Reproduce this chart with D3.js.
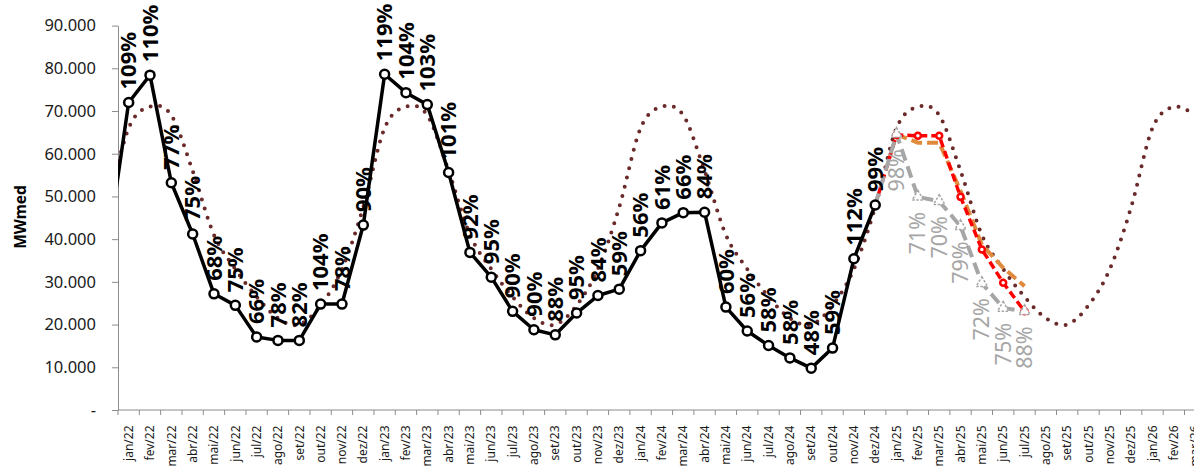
<!DOCTYPE html>
<html><head><meta charset="utf-8">
<script src="https://cdn.jsdelivr.net/npm/d3@7"></script>
<style>body{margin:0;background:#fff;overflow:hidden} svg{display:block}</style>
</head><body><svg id="chart" width="1194" height="476"></svg>
<script>
// Categories (dez/21 is drawn but falls left of the visible axis)
const months = ["dez/21",
  "jan/22","fev/22","mar/22","abr/22","mai/22","jun/22","jul/22","ago/22","set/22","out/22","nov/22","dez/22",
  "jan/23","fev/23","mar/23","abr/23","mai/23","jun/23","jul/23","ago/23","set/23","out/23","nov/23","dez/23",
  "jan/24","fev/24","mar/24","abr/24","mai/24","jun/24","jul/24","ago/24","set/24","out/24","nov/24","dez/24",
  "jan/25","fev/25","mar/25","abr/25","mai/25","jun/25","jul/25","ago/25","set/25","out/25","nov/25","dez/25",
  "jan/26","fev/26","mar/26"];

// Observed (black line with circles)
const actual = [37400,
  72000,78400,53200,41200,27200,24500,17100,16300,16300,24800,24800,43300,
  78600,74300,71500,55600,36900,31100,23100,18800,17600,22700,26800,28300,
  37300,43800,46200,46300,24100,18500,15100,12200,9800,14500,35400,48000,
  null,null,null,null,null,null,null,null,null,null,null,null,
  null,null,null];
const actualLabels = [null,
  "109%","110%","77%","75%","68%","75%","66%","78%","82%","104%","78%","90%",
  "119%","104%","103%","101%","92%","95%","90%","90%","88%","95%","84%","59%",
  "56%","61%","66%","84%","60%","56%","58%","58%","48%","59%","112%","99%",
  null,null,null,null,null,null,null,null,null,null,null,null,
  null,null,null];

// Long-term average (dotted smooth curve)
const mlt = [47500,
  66000,71000,69000,56000,41000,33000,26500,21500,20000,24500,33000,47500,
  66000,71000,69000,56000,41000,33000,26500,21500,20000,24500,33000,47500,
  66000,71000,69000,56000,41000,33000,26500,21500,20000,24500,33000,47500,
  66000,71000,69000,56000,41000,33000,26500,21500,20000,24500,33000,47500,
  66000,71000,69000];

const N = null;
// Forecast scenarios 2025
const redSeries = [N,N,N,N,N,N,N,N,N,N,N,N,N, N,N,N,N,N,N,N,N,N,N,N,N, N,N,N,N,N,N,N,N,N,N,N,48000,
  64400,64200,64200,49900,37600,29800,23100,N,N,N,N,N, N,N,N];
const orangeSeries = [N,N,N,N,N,N,N,N,N,N,N,N,N, N,N,N,N,N,N,N,N,N,N,N,N, N,N,N,N,N,N,N,N,N,N,N,N,
  64500,62600,62600,51300,38700,33300,29000,N,N,N,N,N, N,N,N];
const graySeries = [N,N,N,N,N,N,N,N,N,N,N,N,N, N,N,N,N,N,N,N,N,N,N,N,N, N,N,N,N,N,N,N,N,N,N,N,48000,
  64600,49900,48900,43000,29700,23900,23100,N,N,N,N,N, N,N,N];
const grayLabels = [N,N,N,N,N,N,N,N,N,N,N,N,N, N,N,N,N,N,N,N,N,N,N,N,N, N,N,N,N,N,N,N,N,N,N,N,N,
  "98%","71%","70%","79%","72%","75%","88%",N,N,N,N,N, N,N,N];

const yTicks = [0,10000,20000,30000,40000,50000,60000,70000,80000,90000];

const svg = d3.select("#chart");
const left = 118, bandW = 21.33;
const x = d3.scaleBand().domain(months)
  .range([left - bandW, left + (months.length - 1) * bandW]).padding(0);
const y = d3.scaleLinear().domain([0, 90000]).range([410, 25.6]);
const cx = m => x(m) + x.bandwidth() / 2;
const axisMonths = months.slice(1);

// clip
svg.append("defs").append("clipPath").attr("id", "plot")
  .append("rect").attr("x", left).attr("y", -60).attr("width", 1200).attr("height", 600);

// Y axis
const yAxis = d3.axisLeft(y).tickValues(yTicks).tickSize(6).tickSizeOuter(0).tickPadding(16)
  .tickFormat(d => d === 0 ? "-" : d3.format(",")(d).replace(/,/g, "."));
const gy = svg.append("g").attr("transform", `translate(${left},0)`).call(yAxis);
gy.select(".domain").attr("stroke", "#8c8c8c");
gy.selectAll(".tick line").attr("stroke", "#8c8c8c");
gy.selectAll("text").attr("font-family", "Noto Sans").attr("font-size", 16.5).attr("fill", "#1a1a1a");

// X axis
const xAxis = d3.axisBottom(x).tickValues(axisMonths).tickSize(0).tickSizeOuter(0);
const gx = svg.append("g").attr("transform", "translate(0,410)").call(xAxis);
gx.select(".domain").remove();
gx.selectAll("text").attr("font-family", "Noto Sans").attr("font-size", 12).attr("fill", "#1a1a1a")
  .attr("transform", "rotate(-90)").attr("x", -15.5).attr("y", 0).attr("dy", "0.35em")
  .style("text-anchor", "end");
svg.append("line").attr("x1", left).attr("x2", x.range()[1]).attr("y1", 410).attr("y2", 410)
  .attr("stroke", "#8c8c8c");
svg.append("g").selectAll("line").data(axisMonths).join("line")
  .attr("x1", d => x(d)).attr("x2", d => x(d)).attr("y1", 410).attr("y2", 415)
  .attr("stroke", "#8c8c8c");

// Y title
svg.append("text").attr("transform", "translate(21,217) rotate(-90)")
  .attr("text-anchor", "middle").attr("dy", "0.35em")
  .attr("font-family", "Noto Sans").attr("font-weight", "bold").attr("font-size", 15.5)
  .text("MWmed");

const plot = svg.append("g").attr("clip-path", "url(#plot)");
const mkLine = (curve) => d3.line().defined(d => d.v != null)
  .x(d => cx(d.m)).y(d => y(d.v)).curve(curve || d3.curveLinear);
const pts = arr => months.map((m, i) => ({ m, v: arr[i] }));

// dotted long-term curve
plot.append("path").datum(pts(mlt)).attr("d", mkLine(d3.curveCardinal.tension(0)))
  .attr("fill", "none").attr("stroke", "#6b2a2a").attr("stroke-width", 4)
  .attr("stroke-linecap", "round").attr("stroke-dasharray", "0 9.5");

// black observed line
plot.append("path").datum(pts(actual)).attr("d", mkLine())
  .attr("fill", "none").attr("stroke", "#000").attr("stroke-width", 3.5).attr("stroke-linejoin", "round");

// orange
plot.append("path").datum(pts(orangeSeries)).attr("d", mkLine())
  .attr("fill", "none").attr("stroke", "#e08a3e").attr("stroke-width", 4).attr("stroke-dasharray", "11 5");
// red
plot.append("path").datum(pts(redSeries)).attr("d", mkLine())
  .attr("fill", "none").attr("stroke", "#ff0000").attr("stroke-width", 3.5).attr("stroke-dasharray", "8 4");
// gray
plot.append("path").datum(pts(graySeries)).attr("d", mkLine())
  .attr("fill", "none").attr("stroke", "#a6a6a6").attr("stroke-width", 4).attr("stroke-dasharray", "12 6");

// markers
plot.append("g").selectAll("circle").data(pts(redSeries).filter((d, i) => d.v != null && i > 36)).join("circle")
  .attr("cx", d => cx(d.m)).attr("cy", d => y(d.v)).attr("r", 3)
  .attr("fill", "#fff").attr("stroke", "#ff0000").attr("stroke-width", 2.5);
plot.append("g").selectAll("path").data(pts(graySeries).filter((d, i) => d.v != null && i > 36)).join("path")
  .attr("d", d3.symbol(d3.symbolTriangle, 55))
  .attr("transform", d => `translate(${cx(d.m)},${y(d.v)})`)
  .attr("fill", "#fff").attr("stroke", "#a6a6a6").attr("stroke-width", 1.5).attr("stroke-dasharray", "2.5 1.5");
plot.append("g").selectAll("circle").data(pts(actual).filter(d => d.v != null)).join("circle")
  .attr("cx", d => cx(d.m)).attr("cy", d => y(d.v)).attr("r", 4.5)
  .attr("fill", "#fff").attr("stroke", "#000").attr("stroke-width", 2.5);

// labels
svg.append("g").selectAll("text").data(months.map((m, i) => ({ m, v: actual[i], t: actualLabels[i] })).filter(d => d.t))
  .join("text")
  .attr("transform", d => `translate(${cx(d.m)},${y(d.v) - 13}) rotate(-90)`)
  .attr("dy", "0.35em").attr("text-anchor", "start")
  .attr("font-family", "Noto Sans").attr("font-weight", "bold").attr("font-size", 22).attr("fill", "#000")
  .text(d => d.t);
svg.append("g").selectAll("text").data(months.map((m, i) => ({ m, v: graySeries[i], t: grayLabels[i] })).filter(d => d.t))
  .join("text")
  .attr("transform", d => `translate(${cx(d.m)},${y(d.v) + 15}) rotate(-90)`)
  .attr("dy", "0.35em").attr("text-anchor", "end")
  .attr("font-family", "Noto Sans").attr("font-size", 21.5).attr("fill", "#a6a6a6")
  .text(d => d.t);
</script></body></html>
